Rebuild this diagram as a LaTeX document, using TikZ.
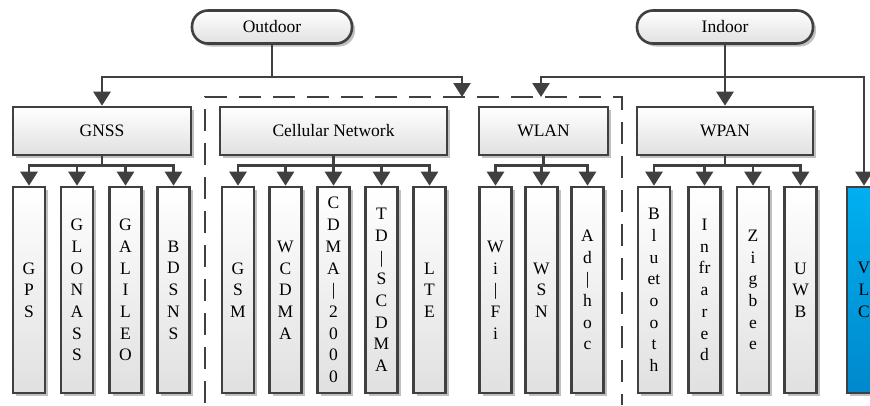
\documentclass[tikz,border=0pt]{standalone}
\usepackage{fontspec}
\setmainfont{Liberation Serif}
\usetikzlibrary{arrows.meta,shadows}
\definecolor{lc}{HTML}{404040}
\definecolor{vlctop}{HTML}{00B0F0}
\definecolor{vlcbot}{HTML}{0088CC}
\begin{document}
\begin{tikzpicture}[x=1pt,y=-1pt,
  line/.style={draw=lc, line width=2.6pt},
  arr/.style={line, -{Triangle[length=14pt,width=17pt]}},
  box/.style={draw=lc, line width=2.6pt, top color=white, bottom color=black!12,
    drop shadow={shadow xshift=3pt, shadow yshift=-3pt, opacity=0.45, fill=black!55},
    inner sep=0pt, font=\rmfamily\fontsize{17.5}{21.7}\selectfont, align=center},
  head/.style={box, minimum height=48pt},
  leaf/.style={box, minimum width=32pt, minimum height=206pt},
  term/.style={box, rounded corners=16pt, minimum width=160pt, minimum height=33pt}]
\useasboundingbox (0,0) rectangle (870,405);

% top terminals
\node[term] (outdoor) at (272,27) {Outdoor};
\node[term, minimum width=176pt] (indoor) at (725,27) {Indoor};

% category boxes
\node[head, minimum width=178pt] (gnss) at (102,131) {GNSS};
\node[head, minimum width=227pt] (cell) at (333.5,131) {Cellular Network};
\node[head, minimum width=129pt] (wlan) at (543.5,131) {WLAN};
\node[head, minimum width=176pt] (wpan) at (725,131) {WPAN};

% leaves
\node[leaf] (gps) at (29,290) {G\\P\\S};
\node[leaf] (glonass) at (77,290) {G\\L\\O\\N\\A\\S\\S};
\node[leaf] (galileo) at (125.5,290) {G\\A\\L\\I\\L\\E\\O};
\node[leaf] (bdsns) at (173.5,290) {B\\D\\S\\N\\S};

\node[leaf] (gsm) at (238,290) {G\\S\\M};
\node[leaf] (wcdma) at (285.5,290) {W\\C\\D\\M\\A};
\node[leaf] (cdma) at (333.5,290) {C\\D\\M\\A\\|\\2\\0\\0\\0};
\node[leaf] (tdscdma) at (381.5,290) {T\\D\\|\\S\\C\\D\\M\\A};
\node[leaf] (lte) at (429.5,290) {L\\T\\E};

\node[leaf] (wifi) at (495.5,290) {W\\i\\|\\F\\i};
\node[leaf] (wsn) at (541.5,290) {W\\S\\N};
\node[leaf] (adhoc) at (587.5,290) {A\\d\\|\\h\\o\\c};

\node[leaf] (bt) at (654,290) {B\\l\\u\\et\\o\\o\\t\\h};
\node[leaf] (ir) at (704.5,290) {I\\n\\fr\\a\\r\\e\\d};
\node[leaf] (zig) at (753,290) {Z\\i\\g\\b\\e\\e};
\node[leaf] (uwb) at (800.5,290) {U\\W\\B};

\node[leaf, top color=vlctop, bottom color=vlcbot, minimum width=34pt] (vlc) at (864,290) {V\\L\\C};

% dashed enclosure (cellular / WLAN group)
\draw[line, dash pattern=on 22pt off 12pt] (205,403) -- (205,97) -- (622,97) -- (622,405);
\coordinate (d1) at (462,97);
\coordinate (d2) at (541,97);

% top connectors
\draw[arr] (outdoor.south) -- ++(0,32) -| (gnss.north);
\draw[arr] (outdoor.south) -- ++(0,32) -| (d1);
\draw[arr] (indoor.south) -- (wpan.north);
\draw[arr] (indoor.south) -- ++(0,32) -| (d2);
\draw[arr] (indoor.south) -- ++(0,32) -| (vlc.north);

% branch connectors
\foreach \p/\c in {gnss/gps,gnss/glonass,gnss/galileo,gnss/bdsns,
  cell/gsm,cell/wcdma,cell/cdma,cell/tdscdma,cell/lte,
  wlan/wifi,wlan/wsn,wlan/adhoc,
  wpan/bt,wpan/ir,wpan/zig,wpan/uwb}
  \draw[arr] (\p.south) -- ++(0,9) -| (\c.north);
\end{tikzpicture}
\end{document}
